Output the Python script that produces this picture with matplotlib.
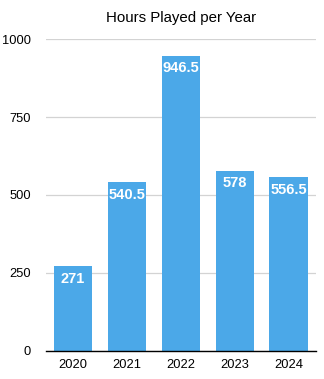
import matplotlib.pyplot as plt

years = ['2020', '2021', '2022', '2023', '2024']
hours = [271, 540.5, 946.5, 578, 556.5]
yticks = [0, 250, 500, 750, 1000]

plt.rcParams['font.family'] = ['Liberation Sans', 'DejaVu Sans']

fig = plt.figure(figsize=(3.24, 3.79), dpi=100)
ax = fig.add_axes([0.142, 0.074, 0.833, 0.823])

x = range(len(years))
bars = ax.bar(x, hours, width=0.72, color='#4BA8E8', zorder=2)

for b, v in zip(bars, hours):
    label = f'{v:g}'
    ax.annotate(label, (b.get_x() + b.get_width() / 2, v), xytext=(0, -9),
                textcoords='offset points', ha='center', va='center',
                color='white', fontsize=10.5, fontweight='bold', zorder=3)

ax.set_xlim(-0.5, len(years) - 0.5)
ax.set_ylim(0, 1000)
ax.set_xticks(list(x))
ax.set_xticklabels(years)
ax.set_yticks(yticks)
ax.tick_params(length=0, labelsize=9.3, pad=6)
ax.tick_params(axis='y', pad=11)
ax.yaxis.grid(True, color='#d3d3d3', linewidth=0.9, zorder=0)
ax.set_axisbelow(True)
for s in ['top', 'right', 'left']:
    ax.spines[s].set_visible(False)
ax.spines['bottom'].set_color('black')
ax.spines['bottom'].set_linewidth(1.0)
ax.spines['bottom'].set_zorder(4)

ax.set_title('Hours Played per Year', fontsize=10.8, pad=12)

fig.savefig('out.png', dpi=100)
